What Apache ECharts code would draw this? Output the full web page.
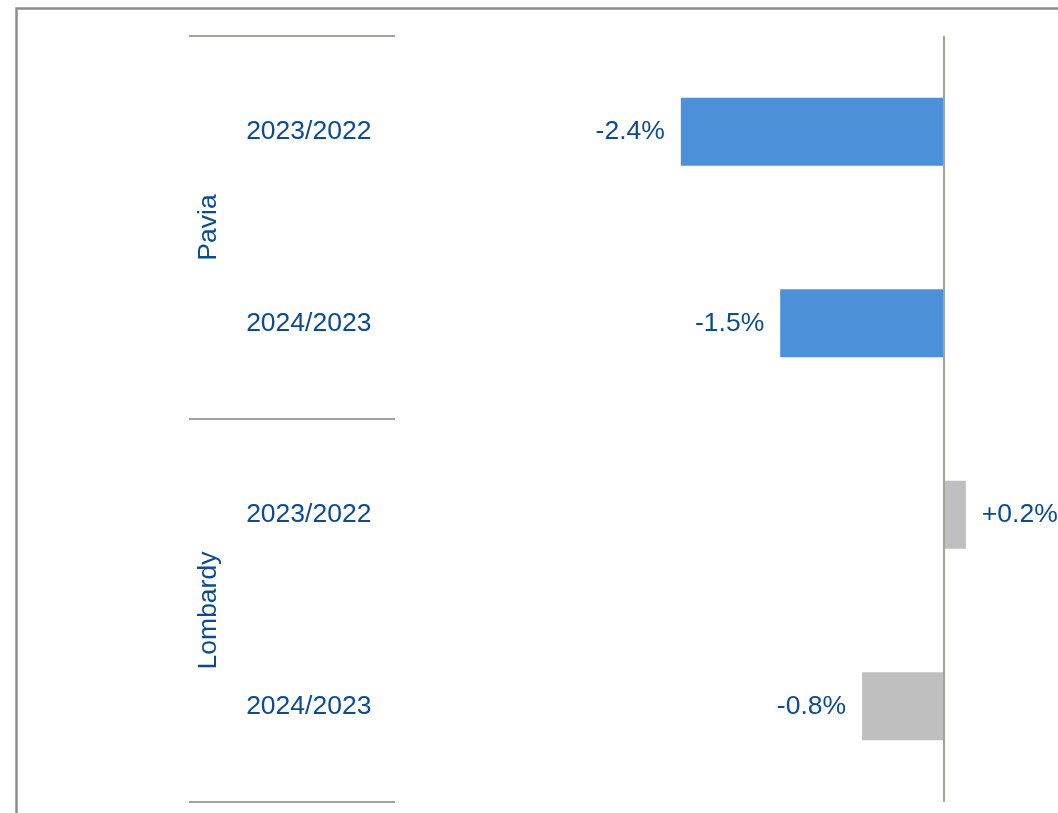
<!DOCTYPE html>
<html>
<head>
<meta charset="utf-8">
<script src="https://cdn.jsdelivr.net/npm/echarts@6/dist/echarts.min.js"></script>
<style>
html,body{margin:0;padding:0;background:#fff;}
#chart{width:1058px;height:813px;}
</style>
</head>
<body>
<div id="chart"></div>
<script>
const rowLabels = ['2023/2022', '2024/2023', '2023/2022', '2024/2023'];
const groupLabels = ['Pavia', 'Lombardy'];
const rowGroup = [0, 0, 1, 1];
const values = [-2.41, -1.5, 0.2, -0.75];
const groupColors = ['#4d90da', '#bfbfbf'];

const textColor = '#0b4a94';
const lineColor = '#a3a39a';
const fontFamily = 'Liberation Sans, Arial, sans-serif';

const chart = echarts.init(document.getElementById('chart'));
const gridLeft = 616.4, gridTop = 36, gridWidth = 436.8, gridHeight = 766;

chart.setOption({
  animation: false,
  graphic: [{
    type: 'rect',
    shape: { x: 16.5, y: 8.5, width: 1200, height: 1000 },
    style: { fill: 'none', stroke: '#8c8c8c', lineWidth: 2.5 },
    silent: true
  }],
  grid: { left: gridLeft, top: gridTop, width: gridWidth, height: gridHeight },
  xAxis: { type: 'value', min: -3, max: 1, show: false },
  yAxis: [{
    type: 'category',
    data: rowLabels,
    inverse: true,
    position: 'left',
    axisLine: { show: false },
    axisTick: { show: false },
    axisLabel: { margin: 245, color: textColor, fontSize: 26.5, fontFamily: fontFamily }
  }, {
    type: 'category',
    data: groupLabels,
    inverse: true,
    position: 'left',
    offset: gridLeft - 395,
    axisLine: { show: false },
    axisTick: { show: true, length: 206, lineStyle: { color: lineColor, width: 2 } },
    axisLabel: { rotate: 90, margin: 173, color: textColor, fontSize: 26.5, fontFamily: fontFamily }
  }],
  series: [{
    type: 'bar',
    yAxisIndex: 0,
    barWidth: 68,
    data: values.map((v, i) => ({
      value: v,
      itemStyle: { color: groupColors[rowGroup[i]] },
      label: { position: v >= 0 ? 'right' : 'left' }
    })),
    label: {
      show: true,
      distance: 16,
      color: textColor,
      fontSize: 26.5,
      fontFamily: fontFamily,
      formatter: p => (p.value > 0 ? '+' : '') + p.value.toFixed(1) + '%'
    },
    markLine: {
      silent: true,
      symbol: 'none',
      label: { show: false },
      lineStyle: { color: lineColor, width: 2, type: 'solid' },
      data: [{ xAxis: 0 }]
    }
  }]
});
</script>
</body>
</html>
